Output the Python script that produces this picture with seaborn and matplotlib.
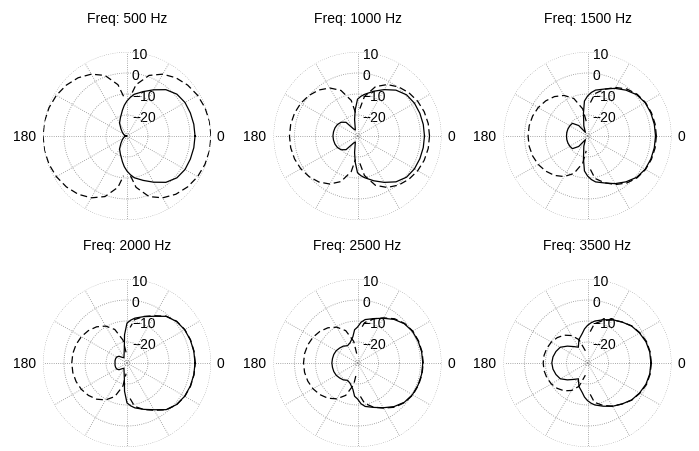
import numpy as np
import pandas as pd
import seaborn as sns
import matplotlib.pyplot as plt
from matplotlib.transforms import offset_copy

plt.rcParams['font.family'] = ['Liberation Sans', 'DejaVu Sans']

angles = [0, 10, 20, 30, 40, 50, 60, 70, 80, 85, 90, 95, 100, 110, 120, 130, 140, 150, 160, 170, 180]

freqs = [500, 1000, 1500, 2000, 2500, 3500]
nan = np.nan

# level in dB (solid curve)
solid_500 = [2.4, 2.3, 2.1, 1.9, 1.0, -1.2, -4.6, -7.5, -9.8, -11.5, -13.3, -15.3, -17.5, -20.8, -22.9, -25.5, -27.0, -28.0, -28.5, -29.0, -30.0]
solid_1000 = [1.9, 1.8, 1.6, 1.3, 0.5, -1.5, -4.5, -7.3, -9.8, -11.0, -12.5, -17.5, -22.0, -27.0, -26.0, -21.5, -19.8, -19.0, -18.6, -18.4, -18.3]
solid_1500 = [2.4, 2.3, 2.1, 1.7, 0.6, -1.5, -3.8, -6.2, -7.8, -9.2, -11.0, -13.3, -18.9, -24.9, -28.0, -23.5, -20.6, -20.3, -20.1, -20.0, -20.0]
solid_2000 = [2.4, 2.3, 2.1, 1.7, 0.8, -1.0, -4.3, -6.5, -8.3, -9.5, -11.0, -16.5, -22.7, -25.9, -27.1, -26.5, -25.0, -24.3, -24.2, -24.2, -24.3]
solid_2500 = [1.1, 1.0, 0.7, 0.2, -0.9, -2.9, -5.4, -7.5, -9.0, -10.5, -12.9, -14.1, -17.3, -19.7, -20.5, -19.5, -18.9, -18.3, -18.0, -17.9, -17.8]
solid_3500 = [0.2, 0.1, -0.4, -1.4, -2.6, -4.5, -6.2, -8.1, -9.7, -10.8, -12.1, -13.7, -15.7, -18.1, -21.3, -19.8, -17.5, -15.0, -14.0, -13.3, -13.0]

# level in dB (dashed curve), nan where the dashed line is not drawn
dashed_500 = [10.0, 9.9, 9.5, 8.8, 7.7, 6.2, 4.0, 0.7, -5.2, -11.0, nan, -11.0, -5.2, 0.7, 4.0, 6.2, 7.7, 8.8, 9.5, 9.9, 10.0]
dashed_1000 = [4.3, 4.2, 3.8, 3.1, 2.0, 0.5, -1.7, -5.0, -10.9, -16.9, nan, -18.8, -12.8, -6.9, -3.6, -1.4, 0.1, 1.2, 1.9, 2.3, 2.4]
dashed_1500 = [2.8, 2.7, 2.4, 1.9, 0.9, -0.8, -3.3, -6.3, -9.5, -14.0, nan, -22.9, -16.9, -11.0, -7.7, -5.5, -4.0, -2.9, -2.2, -1.8, -1.7]
dashed_2000 = [2.5, 2.4, 2.2, 1.8, 0.9, -0.9, -4.0, -6.4, -9.0, -13.0, nan, -24.9, -18.9, -13.0, -9.7, -7.5, -6.0, -4.9, -4.2, -3.8, -3.7]
dashed_2500 = [1.3, 1.2, 0.9, 0.4, -0.7, -2.5, -5.2, -7.6, -10.5, -14.0, nan, -25.5, -19.5, -13.6, -10.3, -8.1, -6.6, -5.5, -4.8, -4.4, -4.3]
dashed_3500 = [0.4, 0.3, -0.1, -1.2, -2.5, -4.5, -6.3, -8.5, -11.0, -15.0, nan, nan, -24.1, -18.2, -14.9, -12.7, -11.2, -10.1, -9.4, -9.0, -8.9]

solid = dict(zip(freqs, [solid_500, solid_1000, solid_1500, solid_2000, solid_2500, solid_3500]))
dashed = dict(zip(freqs, [dashed_500, dashed_1000, dashed_1500, dashed_2000, dashed_2500, dashed_3500]))

r_ticks = [-20, -10, 0, 10]


def full_circle(vals):
    # mirror the 0..180 half onto 180..360
    th = list(angles) + [360 - a for a in angles[::-1][1:]]
    v = list(vals) + list(vals[::-1][1:])
    return np.deg2rad(th), v


rows = []
for f in freqs:
    for kind, src in [('solid', solid), ('dashed', dashed)]:
        th, v = full_circle(src[f])
        seg = 0
        for t, d in zip(th, v):
            if np.isnan(d):
                seg += 1
                continue
            rows.append({'freq': f, 'kind': kind, 'seg': f'{kind}{seg}', 'theta': t, 'db': d})
df = pd.DataFrame(rows)

fig = plt.figure(figsize=(6.99, 4.52), dpi=100)

cx = [127, 357.5, 587.5]
cy = [137, 364]
rad = 84

for k, f in enumerate(freqs):
    x0 = (cx[k % 3] - rad) / 699
    y0 = 1 - (cy[k // 3] + rad) / 452
    ax = fig.add_axes([x0, y0, 2 * rad / 699, 2 * rad / 452], projection='polar')

    sns.lineplot(data=df[df['freq'] == f], x='theta', y='db', style='kind',
                 style_order=['solid', 'dashed'], dashes={'solid': '', 'dashed': (5.5, 3)},
                 units='seg', estimator=None, sort=False, color='black', lw=0.9,
                 legend=False, ax=ax)

    ax.set_ylim(-30, 10)
    ax.set_yticks([-28.7] + r_ticks)
    ax.set_yticklabels([])
    ax.set_xticks(np.deg2rad(np.arange(0, 360, 30)))
    ax.set_xticklabels([])
    ax.grid(True, color='0.55', linestyle=':', linewidth=0.6)
    ax.spines['polar'].set_visible(False)
    ax.set_xlabel('')
    ax.set_ylabel('')

    tr = offset_copy(ax.transData, fig=fig, x=5, y=-2, units='dots')
    for r in r_ticks:
        ax.text(np.pi / 2, r, str(r).replace('-', '\u2212'), transform=tr,
                ha='left', va='center', fontsize=10, zorder=1)

    ax.text(0, 10, '0', transform=offset_copy(ax.transData, fig=fig, x=5.5, y=0, units='dots'),
            ha='left', va='center', fontsize=10)
    ax.text(np.pi, 10, '180', transform=offset_copy(ax.transData, fig=fig, x=-7, y=0, units='dots'),
            ha='right', va='center', fontsize=10)

    ax.set_title(f'Freq: {f} Hz', fontsize=10, pad=21.6)

fig.savefig('out.png', dpi=100)
